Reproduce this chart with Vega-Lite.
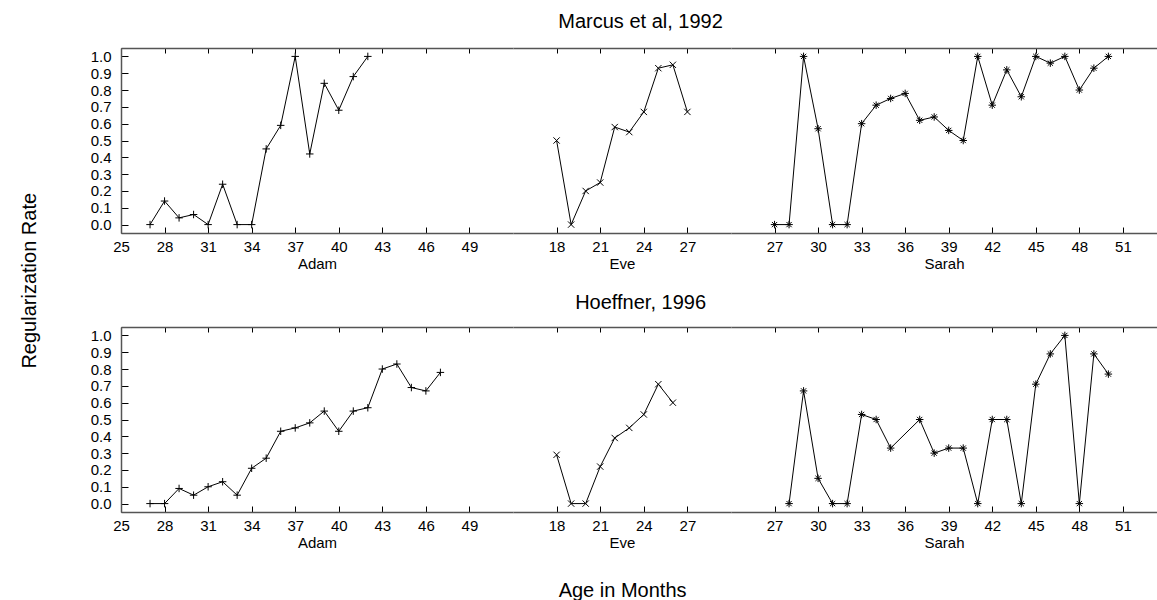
{
  "$schema": "https://vega.github.io/schema/vega-lite/v6.json",
  "padding": {"left": 20, "top": 11, "right": 0, "bottom": 0},
  "background": "white",
  "datasets": {
    "rates": [
      {"study": "Marcus", "child": "Adam", "age": 27, "rate": 0},
      {"study": "Marcus", "child": "Adam", "age": 28, "rate": 0.14},
      {"study": "Marcus", "child": "Adam", "age": 29, "rate": 0.04},
      {"study": "Marcus", "child": "Adam", "age": 30, "rate": 0.06},
      {"study": "Marcus", "child": "Adam", "age": 31, "rate": 0},
      {"study": "Marcus", "child": "Adam", "age": 32, "rate": 0.24},
      {"study": "Marcus", "child": "Adam", "age": 33, "rate": 0},
      {"study": "Marcus", "child": "Adam", "age": 34, "rate": 0},
      {"study": "Marcus", "child": "Adam", "age": 35, "rate": 0.45},
      {"study": "Marcus", "child": "Adam", "age": 36, "rate": 0.59},
      {"study": "Marcus", "child": "Adam", "age": 37, "rate": 1.0},
      {"study": "Marcus", "child": "Adam", "age": 38, "rate": 0.42},
      {"study": "Marcus", "child": "Adam", "age": 39, "rate": 0.84},
      {"study": "Marcus", "child": "Adam", "age": 40, "rate": 0.68},
      {"study": "Marcus", "child": "Adam", "age": 41, "rate": 0.88},
      {"study": "Marcus", "child": "Adam", "age": 42, "rate": 1.0},
      {"study": "Marcus", "child": "Eve", "age": 18, "rate": 0.5},
      {"study": "Marcus", "child": "Eve", "age": 19, "rate": 0},
      {"study": "Marcus", "child": "Eve", "age": 20, "rate": 0.2},
      {"study": "Marcus", "child": "Eve", "age": 21, "rate": 0.25},
      {"study": "Marcus", "child": "Eve", "age": 22, "rate": 0.58},
      {"study": "Marcus", "child": "Eve", "age": 23, "rate": 0.55},
      {"study": "Marcus", "child": "Eve", "age": 24, "rate": 0.67},
      {"study": "Marcus", "child": "Eve", "age": 25, "rate": 0.93},
      {"study": "Marcus", "child": "Eve", "age": 26, "rate": 0.95},
      {"study": "Marcus", "child": "Eve", "age": 27, "rate": 0.67},
      {"study": "Marcus", "child": "Sarah", "age": 27, "rate": 0},
      {"study": "Marcus", "child": "Sarah", "age": 28, "rate": 0},
      {"study": "Marcus", "child": "Sarah", "age": 29, "rate": 1.0},
      {"study": "Marcus", "child": "Sarah", "age": 30, "rate": 0.57},
      {"study": "Marcus", "child": "Sarah", "age": 31, "rate": 0},
      {"study": "Marcus", "child": "Sarah", "age": 32, "rate": 0},
      {"study": "Marcus", "child": "Sarah", "age": 33, "rate": 0.6},
      {"study": "Marcus", "child": "Sarah", "age": 34, "rate": 0.71},
      {"study": "Marcus", "child": "Sarah", "age": 35, "rate": 0.75},
      {"study": "Marcus", "child": "Sarah", "age": 36, "rate": 0.78},
      {"study": "Marcus", "child": "Sarah", "age": 37, "rate": 0.62},
      {"study": "Marcus", "child": "Sarah", "age": 38, "rate": 0.64},
      {"study": "Marcus", "child": "Sarah", "age": 39, "rate": 0.56},
      {"study": "Marcus", "child": "Sarah", "age": 40, "rate": 0.5},
      {"study": "Marcus", "child": "Sarah", "age": 41, "rate": 1.0},
      {"study": "Marcus", "child": "Sarah", "age": 42, "rate": 0.71},
      {"study": "Marcus", "child": "Sarah", "age": 43, "rate": 0.92},
      {"study": "Marcus", "child": "Sarah", "age": 44, "rate": 0.76},
      {"study": "Marcus", "child": "Sarah", "age": 45, "rate": 1.0},
      {"study": "Marcus", "child": "Sarah", "age": 46, "rate": 0.96},
      {"study": "Marcus", "child": "Sarah", "age": 47, "rate": 1.0},
      {"study": "Marcus", "child": "Sarah", "age": 48, "rate": 0.8},
      {"study": "Marcus", "child": "Sarah", "age": 49, "rate": 0.93},
      {"study": "Marcus", "child": "Sarah", "age": 50, "rate": 1.0},
      {"study": "Hoeffner", "child": "Adam", "age": 27, "rate": 0},
      {"study": "Hoeffner", "child": "Adam", "age": 28, "rate": 0},
      {"study": "Hoeffner", "child": "Adam", "age": 29, "rate": 0.09},
      {"study": "Hoeffner", "child": "Adam", "age": 30, "rate": 0.05},
      {"study": "Hoeffner", "child": "Adam", "age": 31, "rate": 0.1},
      {"study": "Hoeffner", "child": "Adam", "age": 32, "rate": 0.13},
      {"study": "Hoeffner", "child": "Adam", "age": 33, "rate": 0.05},
      {"study": "Hoeffner", "child": "Adam", "age": 34, "rate": 0.21},
      {"study": "Hoeffner", "child": "Adam", "age": 35, "rate": 0.27},
      {"study": "Hoeffner", "child": "Adam", "age": 36, "rate": 0.43},
      {"study": "Hoeffner", "child": "Adam", "age": 37, "rate": 0.45},
      {"study": "Hoeffner", "child": "Adam", "age": 38, "rate": 0.48},
      {"study": "Hoeffner", "child": "Adam", "age": 39, "rate": 0.55},
      {"study": "Hoeffner", "child": "Adam", "age": 40, "rate": 0.43},
      {"study": "Hoeffner", "child": "Adam", "age": 41, "rate": 0.55},
      {"study": "Hoeffner", "child": "Adam", "age": 42, "rate": 0.57},
      {"study": "Hoeffner", "child": "Adam", "age": 43, "rate": 0.8},
      {"study": "Hoeffner", "child": "Adam", "age": 44, "rate": 0.83},
      {"study": "Hoeffner", "child": "Adam", "age": 45, "rate": 0.69},
      {"study": "Hoeffner", "child": "Adam", "age": 46, "rate": 0.67},
      {"study": "Hoeffner", "child": "Adam", "age": 47, "rate": 0.78},
      {"study": "Hoeffner", "child": "Eve", "age": 18, "rate": 0.29},
      {"study": "Hoeffner", "child": "Eve", "age": 19, "rate": 0},
      {"study": "Hoeffner", "child": "Eve", "age": 20, "rate": 0},
      {"study": "Hoeffner", "child": "Eve", "age": 21, "rate": 0.22},
      {"study": "Hoeffner", "child": "Eve", "age": 22, "rate": 0.39},
      {"study": "Hoeffner", "child": "Eve", "age": 23, "rate": 0.45},
      {"study": "Hoeffner", "child": "Eve", "age": 24, "rate": 0.53},
      {"study": "Hoeffner", "child": "Eve", "age": 25, "rate": 0.71},
      {"study": "Hoeffner", "child": "Eve", "age": 26, "rate": 0.6},
      {"study": "Hoeffner", "child": "Sarah", "age": 28, "rate": 0},
      {"study": "Hoeffner", "child": "Sarah", "age": 29, "rate": 0.67},
      {"study": "Hoeffner", "child": "Sarah", "age": 30, "rate": 0.15},
      {"study": "Hoeffner", "child": "Sarah", "age": 31, "rate": 0},
      {"study": "Hoeffner", "child": "Sarah", "age": 32, "rate": 0},
      {"study": "Hoeffner", "child": "Sarah", "age": 33, "rate": 0.53},
      {"study": "Hoeffner", "child": "Sarah", "age": 34, "rate": 0.5},
      {"study": "Hoeffner", "child": "Sarah", "age": 35, "rate": 0.33},
      {"study": "Hoeffner", "child": "Sarah", "age": 37, "rate": 0.5},
      {"study": "Hoeffner", "child": "Sarah", "age": 38, "rate": 0.3},
      {"study": "Hoeffner", "child": "Sarah", "age": 39, "rate": 0.33},
      {"study": "Hoeffner", "child": "Sarah", "age": 40, "rate": 0.33},
      {"study": "Hoeffner", "child": "Sarah", "age": 41, "rate": 0},
      {"study": "Hoeffner", "child": "Sarah", "age": 42, "rate": 0.5},
      {"study": "Hoeffner", "child": "Sarah", "age": 43, "rate": 0.5},
      {"study": "Hoeffner", "child": "Sarah", "age": 44, "rate": 0},
      {"study": "Hoeffner", "child": "Sarah", "age": 45, "rate": 0.71},
      {"study": "Hoeffner", "child": "Sarah", "age": 46, "rate": 0.89},
      {"study": "Hoeffner", "child": "Sarah", "age": 47, "rate": 1.0},
      {"study": "Hoeffner", "child": "Sarah", "age": 48, "rate": 0},
      {"study": "Hoeffner", "child": "Sarah", "age": 49, "rate": 0.89},
      {"study": "Hoeffner", "child": "Sarah", "age": 50, "rate": 0.77}
    ]
  },
  "data": {"name": "rates"},
  "title": {"text": "Age in Months", "orient": "bottom", "anchor": "middle", "offset": 31, "dx": 34},
  "vconcat": [
    {
      "title": {"text": "Regularization Rate", "orient": "left", "anchor": "middle", "offset": 50},
      "spacing": 21,
      "vconcat": [
        {
          "title": {"text": "Marcus et al, 1992", "anchor": "middle", "offset": 16, "dx": 17},
          "spacing": 0,
          "hconcat": [
            {
              "width": 392, "height": 185,
              "transform": [{"filter": "datum.study === 'Marcus' && datum.child === 'Adam'"}],
              "layer": [
                {"mark": {"type": "line", "color": "#000", "strokeWidth": 1},
                 "encoding": {
                   "x": {"field": "age", "type": "quantitative", "scale": {"domain": [25, 52], "nice": false, "zero": false},
                         "axis": {"orient": "bottom", "title": "Adam", "values": [25, 28, 31, 34, 37, 40, 43, 46, 49], "tickSize": -6, "labelPadding": 12}},
                   "y": {"field": "rate", "type": "quantitative", "scale": {"domain": [-0.05, 1.05], "nice": false, "zero": false},
                         "axis": {"title": null, "values": [0, 0.1, 0.2, 0.3, 0.4, 0.5, 0.6, 0.7, 0.8, 0.9, 1.0], "format": ".1f", "tickSize": -7, "labelPadding": 17, "labelOverlap": false}}}},
                {"mark": {"type": "point", "shape": "M-1,0H1M0,-1V1", "size": 56, "filled": false, "color": "#000", "strokeWidth": 1, "opacity": 1},
                 "encoding": {
                   "x": {"field": "age", "type": "quantitative", "axis": {"orient": "top", "title": null, "labels": false, "values": [25, 28, 31, 34, 37, 40, 43, 46, 49], "tickSize": -5}},
                   "y": {"field": "rate", "type": "quantitative",
                         "axis": {"title": null, "values": [0, 0.1, 0.2, 0.3, 0.4, 0.5, 0.6, 0.7, 0.8, 0.9, 1.0], "format": ".1f", "tickSize": -7, "labelPadding": 17, "labelOverlap": false}}}}
              ]
            },
            {
              "width": 218, "height": 185,
              "transform": [{"filter": "datum.study === 'Marcus' && datum.child === 'Eve'"}],
              "layer": [
                {"mark": {"type": "line", "color": "#000", "strokeWidth": 1},
                 "encoding": {
                   "x": {"field": "age", "type": "quantitative", "scale": {"domain": [15, 30], "nice": false, "zero": false},
                         "axis": {"orient": "bottom", "title": "Eve", "values": [18, 21, 24, 27], "tickSize": -6, "labelPadding": 12}},
                   "y": {"field": "rate", "type": "quantitative", "scale": {"domain": [-0.05, 1.05], "nice": false, "zero": false}, "axis": null}}},
                {"mark": {"type": "point", "shape": "M-1,-1L1,1M-1,1L1,-1", "size": 40, "filled": false, "color": "#000", "strokeWidth": 1, "opacity": 1},
                 "encoding": {
                   "x": {"field": "age", "type": "quantitative", "axis": {"orient": "top", "title": null, "labels": false, "values": [18, 21, 24, 27], "tickSize": -5}},
                   "y": {"field": "rate", "type": "quantitative", "axis": null}}}
              ]
            },
            {
              "width": 426, "height": 185,
              "transform": [{"filter": "datum.study === 'Marcus' && datum.child === 'Sarah'"}],
              "layer": [
                {"mark": {"type": "line", "color": "#000", "strokeWidth": 1},
                 "encoding": {
                   "x": {"field": "age", "type": "quantitative", "scale": {"domain": [24, 53.35], "nice": false, "zero": false},
                         "axis": {"orient": "bottom", "title": "Sarah", "values": [27, 30, 33, 36, 39, 42, 45, 48, 51], "tickSize": -6, "labelPadding": 12}},
                   "y": {"field": "rate", "type": "quantitative", "scale": {"domain": [-0.05, 1.05], "nice": false, "zero": false}, "axis": null}}},
                {"mark": {"type": "point", "shape": "M-1,0H1M0,-1V1M-0.7,-0.7L0.7,0.7M-0.7,0.7L0.7,-0.7", "size": 56, "filled": false, "color": "#000", "strokeWidth": 1, "opacity": 1},
                 "encoding": {
                   "x": {"field": "age", "type": "quantitative", "axis": {"orient": "top", "title": null, "labels": false, "values": [27, 30, 33, 36, 39, 42, 45, 48, 51], "tickSize": -5}},
                   "y": {"field": "rate", "type": "quantitative", "axis": null}}}
              ]
            }
          ]
        },
        {
          "title": {"text": "Hoeffner, 1996", "anchor": "middle", "offset": 14, "dx": 17},
          "spacing": 0,
          "hconcat": [
            {
              "width": 392, "height": 185,
              "transform": [{"filter": "datum.study === 'Hoeffner' && datum.child === 'Adam'"}],
              "layer": [
                {"mark": {"type": "line", "color": "#000", "strokeWidth": 1},
                 "encoding": {
                   "x": {"field": "age", "type": "quantitative", "scale": {"domain": [25, 52], "nice": false, "zero": false},
                         "axis": {"orient": "bottom", "title": "Adam", "values": [25, 28, 31, 34, 37, 40, 43, 46, 49], "tickSize": -6, "labelPadding": 12}},
                   "y": {"field": "rate", "type": "quantitative", "scale": {"domain": [-0.05, 1.05], "nice": false, "zero": false},
                         "axis": {"title": null, "values": [0, 0.1, 0.2, 0.3, 0.4, 0.5, 0.6, 0.7, 0.8, 0.9, 1.0], "format": ".1f", "tickSize": -7, "labelPadding": 17, "labelOverlap": false}}}},
                {"mark": {"type": "point", "shape": "M-1,0H1M0,-1V1", "size": 56, "filled": false, "color": "#000", "strokeWidth": 1, "opacity": 1},
                 "encoding": {
                   "x": {"field": "age", "type": "quantitative", "axis": {"orient": "top", "title": null, "labels": false, "values": [25, 28, 31, 34, 37, 40, 43, 46, 49], "tickSize": -5}},
                   "y": {"field": "rate", "type": "quantitative",
                         "axis": {"title": null, "values": [0, 0.1, 0.2, 0.3, 0.4, 0.5, 0.6, 0.7, 0.8, 0.9, 1.0], "format": ".1f", "tickSize": -7, "labelPadding": 17, "labelOverlap": false}}}}
              ]
            },
            {
              "width": 218, "height": 185,
              "transform": [{"filter": "datum.study === 'Hoeffner' && datum.child === 'Eve'"}],
              "layer": [
                {"mark": {"type": "line", "color": "#000", "strokeWidth": 1},
                 "encoding": {
                   "x": {"field": "age", "type": "quantitative", "scale": {"domain": [15, 30], "nice": false, "zero": false},
                         "axis": {"orient": "bottom", "title": "Eve", "values": [18, 21, 24, 27], "tickSize": -6, "labelPadding": 12}},
                   "y": {"field": "rate", "type": "quantitative", "scale": {"domain": [-0.05, 1.05], "nice": false, "zero": false}, "axis": null}}},
                {"mark": {"type": "point", "shape": "M-1,-1L1,1M-1,1L1,-1", "size": 40, "filled": false, "color": "#000", "strokeWidth": 1, "opacity": 1},
                 "encoding": {
                   "x": {"field": "age", "type": "quantitative", "axis": {"orient": "top", "title": null, "labels": false, "values": [18, 21, 24, 27], "tickSize": -5}},
                   "y": {"field": "rate", "type": "quantitative", "axis": null}}}
              ]
            },
            {
              "width": 426, "height": 185,
              "transform": [{"filter": "datum.study === 'Hoeffner' && datum.child === 'Sarah'"}],
              "layer": [
                {"mark": {"type": "line", "color": "#000", "strokeWidth": 1},
                 "encoding": {
                   "x": {"field": "age", "type": "quantitative", "scale": {"domain": [24, 53.35], "nice": false, "zero": false},
                         "axis": {"orient": "bottom", "title": "Sarah", "values": [27, 30, 33, 36, 39, 42, 45, 48, 51], "tickSize": -6, "labelPadding": 12}},
                   "y": {"field": "rate", "type": "quantitative", "scale": {"domain": [-0.05, 1.05], "nice": false, "zero": false}, "axis": null}}},
                {"mark": {"type": "point", "shape": "M-1,0H1M0,-1V1M-0.7,-0.7L0.7,0.7M-0.7,0.7L0.7,-0.7", "size": 56, "filled": false, "color": "#000", "strokeWidth": 1, "opacity": 1},
                 "encoding": {
                   "x": {"field": "age", "type": "quantitative", "axis": {"orient": "top", "title": null, "labels": false, "values": [27, 30, 33, 36, 39, 42, 45, 48, 51], "tickSize": -5}},
                   "y": {"field": "rate", "type": "quantitative", "axis": null}}}
              ]
            }
          ]
        }
      ]
    }
  ],
  "config": {
    "view": {"stroke": null},
    "font": "Liberation Sans",
    "axis": {
      "grid": false,
      "labelFont": "Liberation Sans", "labelFontSize": 15, "labelColor": "#000",
      "titleFont": "Liberation Sans", "titleFontSize": 15, "titleFontWeight": "normal", "titleColor": "#000", "titlePadding": 2,
      "tickColor": "#000", "tickWidth": 1,
      "domainColor": "#555", "domainWidth": 1.5,
      "labelFlush": false, "labelOverlap": false
    },
    "title": {"font": "Liberation Sans", "fontSize": 20, "fontWeight": "normal", "color": "#000"}
  }
}
